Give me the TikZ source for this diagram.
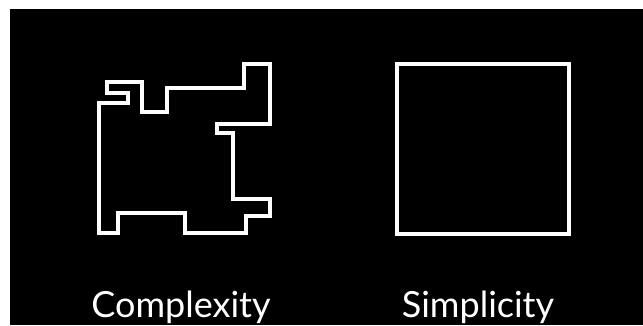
\documentclass[tikz,border=0pt]{standalone}
\usepackage{fontspec}
\setmainfont{Lato}
\begin{document}
\begin{tikzpicture}[x=1pt,y=-1pt]
	\useasboundingbox(0,0)rectangle(643,325);
	\fill[white](0,0)rectangle(643,325);
	\fill[black](10,9)rectangle(643,325);
	\draw[white,line width=3.2pt](107,82)--(142,82)--(142,112)--(167,112)--(167,88)--(244,88)--(244,64)--(270,64)--(270,124)--(217,124)--(217,133)--(233,133)--(233,199)--(270,199)--(270,216)--(246,216)--(246,233)--(185,233)--(185,213)--(118,213)--(118,233)--(99,233)--(99,103)--(128,103)--(128,93)--(107,93)--cycle;
	\draw[white,line width=3.2pt](397,64)rectangle(569,234);
	\draw(181,317)node[anchor=base,white,font=\fontsize{36}{40}\selectfont](complex){Complexity};
	\draw(478,317)node[anchor=base,white,font=\fontsize{36}{40}\selectfont](simple){Simplicity};
\end{tikzpicture}
\end{document}
